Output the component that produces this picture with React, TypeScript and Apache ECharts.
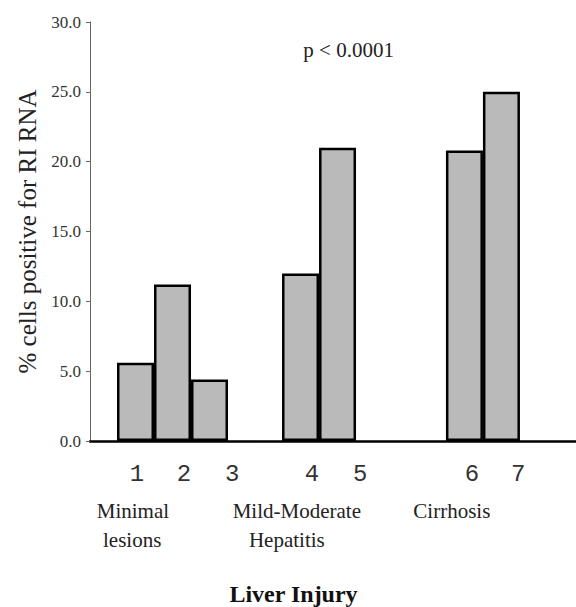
import React, { useEffect, useRef } from "react";
import * as echarts from "echarts";

// ---- data ----
const barLabels = ["1", "2", "3", "4", "5", "6", "7"];
const values = [5.6, 11.2, 4.4, 12.0, 21.0, 20.8, 25.0];
const barGroup = [0, 0, 0, 1, 1, 2, 2];
const groupLines = [["Minimal", "lesions"], ["Mild-Moderate", "Hepatitis"], ["Cirrhosis"]];
const yMin = 0;
const yMax = 30;
const yStep = 5;
const yAxisTitle = "% cells positive for RI RNA";
const xAxisTitle = "Liver Injury";
const pText = "p < 0.0001";

// ---- layout (x in bar-width units) ----
const GRID_LEFT = 90;
const GRID_TOP = 22;
const GRID_BOTTOM = 166;
const BAR_PX = 37;
const W = 576;
const H = 607;
const X_MAX = (W - GRID_LEFT) / BAR_PX;
const GROUP_START = [0.73, 5.19, 9.62];
const TICK_X = [1.27, 2.54, 3.84, 6.0, 7.3, 10.32, 11.57];
const GROUP_LINE_X = [[1.16, 1.14], [5.59, 5.32], [9.78]];

export default function App() {
  const ref = useRef<HTMLDivElement>(null);
  useEffect(() => {
    if (!ref.current) return;
    const chart = echarts.init(ref.current, null, { renderer: "svg" });
    const pos: number[] = [];
    const counters = [0, 0, 0];
    barGroup.forEach((g) => {
      pos.push(GROUP_START[g] + counters[g] + 0.5);
      counters[g]++;
    });
    chart.setOption({
      animation: false,
      grid: { left: GRID_LEFT, right: 0, top: GRID_TOP, bottom: GRID_BOTTOM },
      xAxis: {
        type: "value",
        min: 0,
        max: X_MAX,
        axisLine: { show: true, lineStyle: { color: "#000", width: 2.5 } },
        axisTick: { show: false },
        axisLabel: { show: false },
        splitLine: { show: false },
      },
      yAxis: {
        type: "value",
        min: yMin,
        max: yMax,
        interval: yStep,
        name: yAxisTitle,
        nameLocation: "middle",
        nameRotate: 90,
        nameGap: 50,
        nameTextStyle: { fontFamily: "Liberation Serif", fontSize: 25, color: "#222" },
        axisLine: { show: true, lineStyle: { color: "#666", width: 1 } },
        axisTick: { show: true, length: 4, lineStyle: { color: "#666" } },
        axisLabel: {
          formatter: (v: number) => v.toFixed(1),
          fontFamily: "Liberation Serif",
          fontSize: 17,
          color: "#333",
          margin: 9,
        },
        splitLine: { show: false },
      },
      series: [
        {
          type: "bar",
          barWidth: BAR_PX,
          data: values.map((v, i) => [pos[i], v]),
          itemStyle: { color: "#bababa", borderColor: "#000", borderWidth: 2.5 },
        },
      ],
    });
    const toPx = (x: number, y: number) =>
      chart.convertToPixel({ xAxisIndex: 0, yAxisIndex: 0 }, [x, y]) as number[];
    const base = toPx(0, 0)[1];
    const graphic: any[] = [];
    barLabels.forEach((t, i) => {
      const p = toPx(TICK_X[i], 0);
      graphic.push({
        type: "text",
        x: p[0],
        y: base + 33,
        style: {
          text: t,
          fontFamily: "Liberation Mono",
          fontSize: 24,
          fill: "#333",
          textAlign: "center",
          textVerticalAlign: "middle",
        },
      });
    });
    groupLines.forEach((lines, g) => {
      lines.forEach((line, li) => {
        const p = toPx(GROUP_LINE_X[g][li], 0);
        graphic.push({
          type: "text",
          x: p[0],
          y: base + 70 + li * 29,
          style: {
            text: line,
            fontFamily: "Liberation Serif",
            fontSize: 21,
            fill: "#222",
            textAlign: "center",
            textVerticalAlign: "middle",
          },
        });
      });
    });
    graphic.push({
      type: "text",
      x: toPx(5.5, 0)[0],
      y: base + 153,
      style: {
        text: xAxisTitle,
        fontFamily: "Liberation Serif",
        fontSize: 24,
        fontWeight: "bold",
        fill: "#111",
        textAlign: "center",
        textVerticalAlign: "middle",
      },
    });
    const pp = toPx(6.99, 28.0);
    graphic.push({
      type: "text",
      x: pp[0],
      y: pp[1] + 0.5,
      style: {
        text: pText,
        fontFamily: "Liberation Serif",
        fontSize: 21,
        fill: "#222",
        textAlign: "center",
        textVerticalAlign: "middle",
      },
    });
    chart.setOption({ graphic });
    return () => chart.dispose();
  }, []);
  return (
    <div
      ref={ref}
      style={{ position: "fixed", left: 0, top: 0, width: W, height: H, background: "#fff" }}
    />
  );
}
